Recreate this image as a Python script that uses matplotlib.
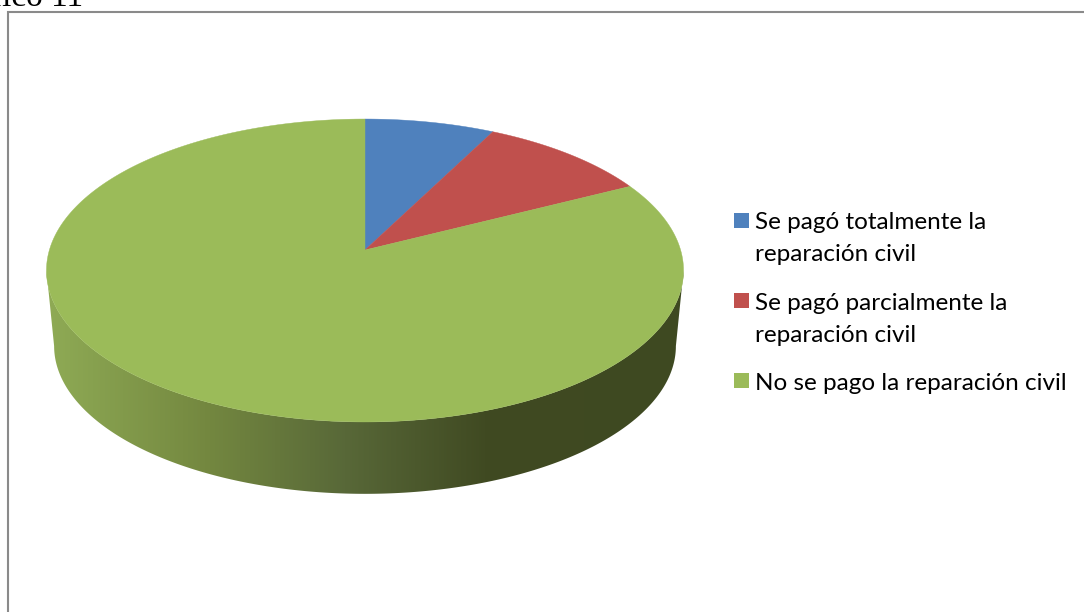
import matplotlib
matplotlib.use('Agg')
import matplotlib.pyplot as plt
from matplotlib.colors import LinearSegmentedColormap
from matplotlib.patches import Polygon, Rectangle
import numpy as np

labels = ["Se pagó totalmente la\nreparación civil",
          "Se pagó parcialmente la\nreparación civil",
          "No se pago la reparación civil"]
values = [3, 4, 33]
colors = ["#4F81BD", "#C0504D", "#9BBB59"]
caption = "Gráfico 11"

W, H = 1084, 612
CX, CY = 365, 250
A, B, Q = 315.6, 148.7, 0.1353  # perspective of the pie's top face
SIDE_SCALE, SIDE_DROP = 0.976, 76


def project(angle, r=1.0, scale=1.0, drop=0.0):
    # angle runs clockwise from 12 o'clock, returns pixel coordinates
    u = r * np.sin(angle)
    v = r * np.cos(angle)
    k = 1 + Q * v
    return CX + scale * A * u / k, CY + drop - scale * B * v / k


fig = plt.figure(figsize=(W / 100, H / 100), dpi=100)
ax = fig.add_axes([0, 0, 1, 1])
ax.set_xlim(0, W)
ax.set_ylim(H, 0)
ax.axis('off')

# Chart frame, runs off the right and bottom of the crop
ax.plot([8, 8, W + 5], [H + 5, 12, 12], color="#8A8A8A", lw=1.5, solid_joinstyle='miter')

# Caption is cut by the top edge
ax.text(83, 6, caption, family="Liberation Serif", fontsize=24, ha='right', va='baseline',
        color="black")

# Side wall with the horizontal shading
front = np.radians(np.linspace(90 + 7.8, 270 - 7.8, 300))  # rim points of the widest span
tx, ty = project(front)
bx, by = project(front, scale=SIDE_SCALE, drop=SIDE_DROP)
side = Polygon(np.column_stack([np.r_[tx, bx[::-1]], np.r_[ty, by[::-1]]]),
               closed=True, facecolor='none', edgecolor='none')
ax.add_patch(side)
shade = LinearSegmentedColormap.from_list("side", [
    (0.0, "#8FAB55"), (0.25, "#748840"), (0.47, "#586838"), (0.69, "#404A22"), (1.0, "#3E4921")])
im = ax.imshow(np.linspace(0, 1, 640).reshape(1, -1), cmap=shade, aspect='auto',
               extent=[45, 684, 500, 260], zorder=1)
ax.set_xlim(0, W)
ax.set_ylim(H, 0)
im.set_clip_path(side)

# Top face slices
stops = np.cumsum([0] + values) / sum(values) * 2 * np.pi
for i in range(len(values)):
    t = np.linspace(stops[i], stops[i + 1], 300)
    x, y = project(t)
    ax.fill(np.r_[CX, x], np.r_[CY, y], color=colors[i], lw=0.3, zorder=2)

# Legend
swatch_y = [213, 293, 373]
text_y = [229, 310, 390]
for i in range(len(labels)):
    ax.add_patch(Rectangle((734, swatch_y[i]), 15, 15, facecolor=colors[i], edgecolor='none'))
    ax.text(755, text_y[i], labels[i].split("\n")[0], family="Lato", fontsize=17.5,
            ha='left', va='baseline', color="black")
    if "\n" in labels[i]:
        ax.text(755, text_y[i] + 32, labels[i].split("\n")[1], family="Lato", fontsize=17.5,
                ha='left', va='baseline', color="black")

plt.savefig("out.png", dpi=100)
plt.close()
